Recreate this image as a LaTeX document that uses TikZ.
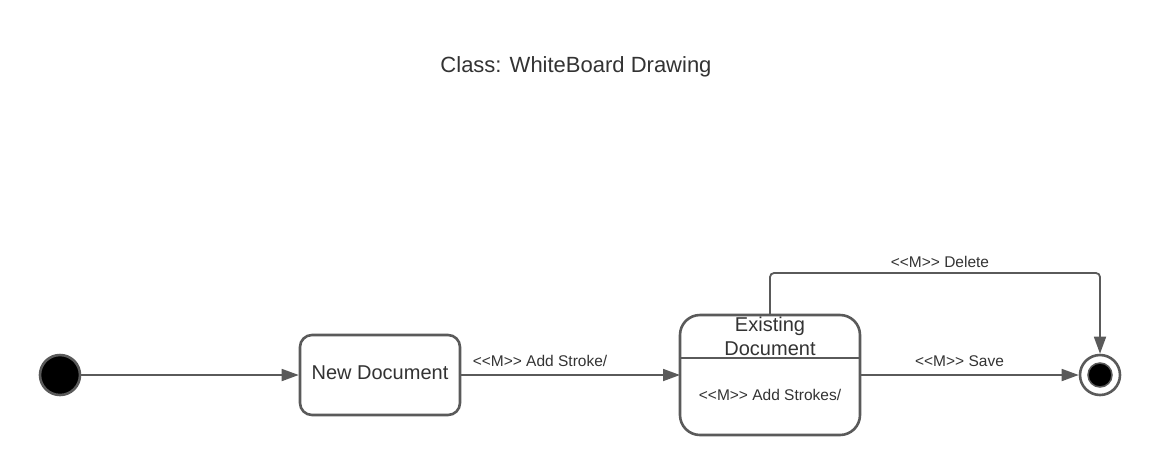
\documentclass[tikz,border=0pt]{standalone}
\usepackage{fontspec}
\setmainfont{Liberation Sans}
\usetikzlibrary{arrows.meta}
\definecolor{ln}{HTML}{5A5A5A}
\definecolor{tx}{HTML}{333333}
\newcommand{\mmtag}{{<}{<}M{>}{>}}
\tikzset{
  statebox/.style={draw=ln, line width=2.6pt, rounded corners=12pt, fill=white},
  conn/.style={draw=ln, line width=1.8pt, -{Triangle[length=17pt,width=12pt]}},
  lbl/.style={text=tx, font=\fontsize{15.5}{17}\selectfont, inner sep=0pt},
}
\begin{document}
\begin{tikzpicture}[x=1pt,y=-1pt]
\useasboundingbox (0,0) rectangle (1160,475);
\node[text=tx, font=\fontsize{22}{24}\selectfont, inner sep=0pt] (title) at (576,67) {Class: WhiteBoard Drawing};
% initial
\node[circle, fill=black, draw=ln, line width=2.6pt, minimum size=40pt, inner sep=0pt] (init) at (60,375) {};
% new document
\node[statebox, minimum width=160pt, minimum height=80pt, inner sep=0pt] (new) at (380,375) {};
\node[text=tx, font=\fontsize{20}{22}\selectfont, inner sep=0pt] (newt) at (380,373) {New Document};
% existing document
\draw[statebox, rounded corners=20pt] (680,315) rectangle (860,435);
\coordinate (ex) at (770,375);
\coordinate (exW) at (680,375);
\coordinate (exE) at (860,375);
\coordinate (exN) at (770,315);
\draw[ln, line width=2.6pt] (680,358) -- (860,358);
\node[text=tx, font=\fontsize{20}{24}\selectfont, align=center, inner sep=0pt] (ext) at (770,336) {Existing\\Document};
\node[lbl] (act) at (770,395) {\mmtag{} Add Strokes/};
% final
\node[circle, draw=ln, line width=2.6pt, minimum size=40pt, inner sep=0pt, fill=white] (fin) at (1100,375) {};
\node[circle, fill=black, draw=ln, line width=1.5pt, minimum size=24pt, inner sep=0pt] (finin) at (1100,375) {};
% connectors
\draw[conn] (init) -- (new);
\draw[conn] (new) -- node[lbl, above=7pt, pos=0.36] {\mmtag{} Add Stroke/} (exW);
\draw[conn] (exE) -- node[lbl, above=7pt, pos=0.455] {\mmtag{} Save} (fin);
\draw[conn, rounded corners=4pt] (exN) -- (770,273) -- node[lbl, above=4pt, pos=0.515] {\mmtag{} Delete} (1100,273) -- (fin);
\end{tikzpicture}
\end{document}
